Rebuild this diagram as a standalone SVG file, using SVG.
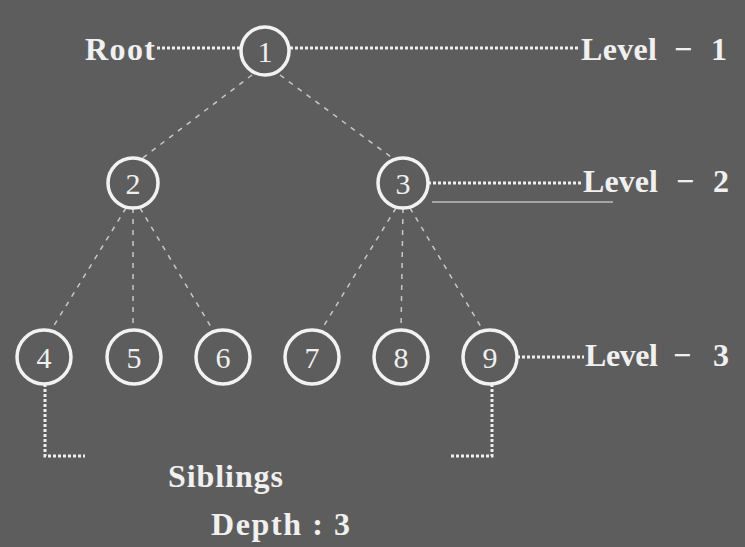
<svg xmlns="http://www.w3.org/2000/svg" width="745" height="547" viewBox="0 0 745 547">
<defs>
<style>
.bg{fill:#5d5d5d}
.node circle{fill:none;stroke:#f2f2f2;stroke-width:3.5}
.node text{fill:#f0f0f0;font-family:"Liberation Serif",serif;font-size:30px;text-anchor:middle}
.lbl{fill:#f0f0f0;font-family:"Liberation Serif",serif;font-weight:bold;font-size:32px}
.dot{stroke:#eeeeee;stroke-width:3;stroke-dasharray:3 2;fill:none}
.edge{stroke:#c8c8c8;stroke-width:1.5;stroke-dasharray:5 6;fill:none}
</style>
</defs>
<rect class="bg" x="0" y="0" width="745" height="547"/>
<g id="connectors">
<line class="edge" x1="252" y1="75" x2="140" y2="160"/>
<line class="edge" x1="280" y1="75" x2="395" y2="160"/>
<line class="edge" x1="126" y1="208" x2="50" y2="332"/>
<line class="edge" x1="133" y1="208" x2="133" y2="331"/>
<line class="edge" x1="140" y1="208" x2="214" y2="332"/>
<line class="edge" x1="396" y1="208" x2="320" y2="332"/>
<line class="edge" x1="403" y1="208" x2="401" y2="331"/>
<line class="edge" x1="410" y1="208" x2="484" y2="332"/>
<line class="dot" x1="157" y1="48" x2="240" y2="48"/>
<line class="dot" x1="290" y1="48" x2="580" y2="48"/>
<line class="dot" x1="428" y1="183" x2="582" y2="183"/>
<line x1="432" y1="202" x2="613" y2="202" stroke="#bdbdbd" stroke-width="1.5"/>
<line class="dot" x1="517" y1="357" x2="584" y2="357"/>
<polyline class="dot" points="45,384 45,456 85,456"/>
<polyline class="dot" points="492,384 492,456 450,456"/>
</g>
<g id="n1" class="node"><circle cx="265" cy="51" r="24"/><text x="265" y="62">1</text></g>
<g id="n2" class="node"><circle cx="133" cy="183" r="25"/><text x="133" y="194">2</text></g>
<g id="n3" class="node"><circle cx="403" cy="183" r="25"/><text x="403" y="194">3</text></g>
<g id="n4" class="node"><circle cx="44" cy="357" r="27"/><text x="44" y="368">4</text></g>
<g id="n5" class="node"><circle cx="134" cy="357" r="27"/><text x="134" y="368">5</text></g>
<g id="n6" class="node"><circle cx="223" cy="357" r="27"/><text x="223" y="368">6</text></g>
<g id="n7" class="node"><circle cx="312" cy="357" r="27"/><text x="312" y="368">7</text></g>
<g id="n8" class="node"><circle cx="401" cy="357" r="27"/><text x="401" y="368">8</text></g>
<g id="n9" class="node"><circle cx="490" cy="357" r="27"/><text x="490" y="368">9</text></g>
<g id="labels">
<text class="lbl" x="85" y="60" textLength="70">Root</text>
<text class="lbl" y="60"><tspan x="581" textLength="76">Level</tspan><tspan x="674">−</tspan><tspan x="711">1</tspan></text>
<text class="lbl" y="192"><tspan x="583" textLength="75">Level</tspan><tspan x="676">−</tspan><tspan x="713">2</tspan></text>
<text class="lbl" y="366"><tspan x="585" textLength="73">Level</tspan><tspan x="673">−</tspan><tspan x="713">3</tspan></text>
<text class="lbl" x="168" y="487" textLength="115">Siblings</text>
<text class="lbl" x="211" y="535" textLength="139">Depth : 3</text>
</g>
</svg>
